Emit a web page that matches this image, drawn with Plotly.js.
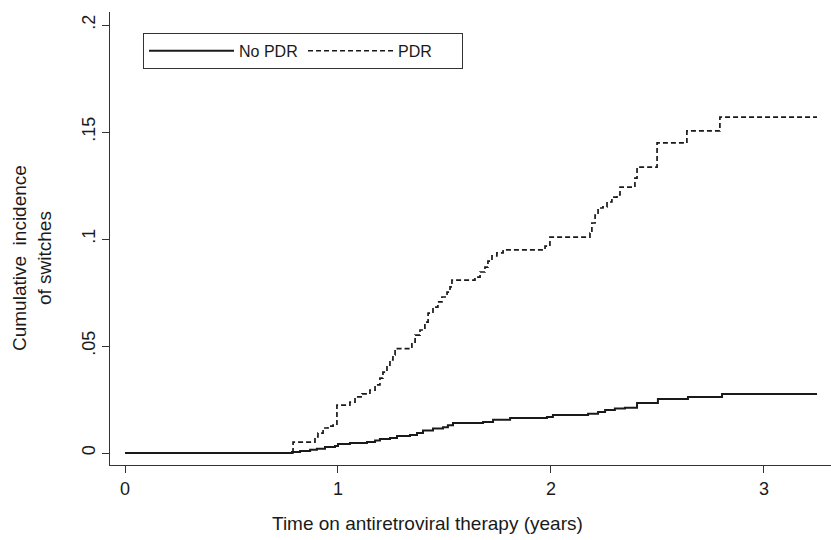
<!DOCTYPE html>
<html>
<head>
<meta charset="utf-8">
<script src="https://cdn.plot.ly/plotly-3.0.1.min.js"></script>
<style>html,body{margin:0;padding:0;background:#fff;}#chart{width:831px;height:540px;}</style>
</head>
<body>
<div id="chart"></div>
<script>
// Time on ART (years) and cumulative incidence of switches (step functions)
const noPdrTime = [0, 0.784, 0.822, 0.869, 0.901, 0.939, 0.986, 1.000, 1.056, 1.136, 1.174, 1.197, 1.244, 1.277, 1.338, 1.371, 1.399, 1.446, 1.493, 1.516, 1.540, 1.681, 1.728, 1.808, 1.981, 2.009, 2.174, 2.221, 2.254, 2.300, 2.347, 2.404, 2.502, 2.643, 2.803, 3.249];
const noPdrInc  = [0, 0.0005, 0.0010, 0.0015, 0.0020, 0.0028, 0.0033, 0.0042, 0.0047, 0.0051, 0.0058, 0.0065, 0.0070, 0.0079, 0.0084, 0.0093, 0.0105, 0.0114, 0.0121, 0.0130, 0.0140, 0.0145, 0.0155, 0.0164, 0.0168, 0.0178, 0.0183, 0.0192, 0.0201, 0.0208, 0.0212, 0.0234, 0.0252, 0.0262, 0.0276, 0.0276];

const pdrTime = [0, 0.789, 0.892, 0.906, 0.930, 0.953, 0.977, 0.995, 1.056, 1.080, 1.113, 1.150, 1.174, 1.197, 1.211, 1.230, 1.244, 1.258, 1.268, 1.347, 1.362, 1.385, 1.408, 1.423, 1.446, 1.469, 1.488, 1.512, 1.526, 1.535, 1.643, 1.667, 1.690, 1.704, 1.723, 1.746, 1.775, 1.972, 1.995, 2.183, 2.192, 2.207, 2.221, 2.244, 2.263, 2.286, 2.310, 2.324, 2.394, 2.404, 2.498, 2.638, 2.793, 3.249];
const pdrInc  = [0, 0.0051, 0.0075, 0.0093, 0.0117, 0.0126, 0.0131, 0.0224, 0.0238, 0.0262, 0.0276, 0.0294, 0.0318, 0.0350, 0.0378, 0.0411, 0.0435, 0.0458, 0.0488, 0.0518, 0.0551, 0.0575, 0.0612, 0.0654, 0.0682, 0.0706, 0.0729, 0.0752, 0.0776, 0.0808, 0.0822, 0.0846, 0.0869, 0.0897, 0.0921, 0.0935, 0.0949, 0.0967, 0.1009, 0.1028, 0.1075, 0.1112, 0.1145, 0.1150, 0.1173, 0.1196, 0.1206, 0.1243, 0.1285, 0.1336, 0.1449, 0.1505, 0.1570, 0.1570];

const xTicks = [0, 1, 2, 3];
const xTickText = ["0", "1", "2", "3"];
const yTicks = [0, 0.05, 0.1, 0.15, 0.2];
const yTickText = ["0", ".05", ".1", ".15", ".2"];
const seriesNames = ["No PDR", "PDR"];

const FONT = "Liberation Sans, Arial, sans-serif";
const INK = "#1a1a1a";

const traces = [
  {x: noPdrTime, y: noPdrInc, name: seriesNames[0], type: "scatter", mode: "lines",
   line: {shape: "hv", color: INK, width: 2}},
  {x: pdrTime, y: pdrInc, name: seriesNames[1], type: "scatter", mode: "lines",
   line: {shape: "hv", color: INK, width: 1.7, dash: "5px,3px"}}
];

const layout = {
  width: 831, height: 540,
  margin: {l: 110, r: 0, t: 12, b: 75},
  paper_bgcolor: "#fff", plot_bgcolor: "#fff",
  font: {family: FONT, color: INK, size: 17},
  showlegend: true,
  legend: {
    orientation: "h", x: 0.0458, y: 0.954, xanchor: "left", yanchor: "top",
    bordercolor: "#333", borderwidth: 1, bgcolor: "#fff",
    font: {family: FONT, size: 16, color: INK},
    itemwidth: 85, entrywidth: 59, entrywidthmode: "pixels",
    tracegroupgap: 0
  },
  xaxis: {
    range: [-0.0704, 3.3146], tickvals: xTicks, ticktext: xTickText,
    ticks: "outside", ticklen: 7, tickcolor: "#333", tickwidth: 1,
    showline: true, linecolor: "#333", linewidth: 1,
    showgrid: false, zeroline: false,
    tickfont: {family: FONT, size: 18, color: INK}
  },
  yaxis: {
    range: [-0.0056, 0.2061], tickvals: yTicks, ticktext: yTickText,
    ticks: "outside", ticklen: 7, tickcolor: "#333", tickwidth: 1,
    showline: true, linecolor: "#333", linewidth: 1,
    showgrid: false, zeroline: false, tickangle: -90,
    tickfont: {family: FONT, size: 18, color: INK}
  },
  annotations: [
    {text: "Time on antiretroviral therapy (years)", xref: "paper", yref: "paper",
     x: (427 - 110) / 721, y: -(523 - 465) / 453, xanchor: "center", yanchor: "middle",
     showarrow: false, font: {family: FONT, size: 19, color: INK}},
    {text: "Cumulative  incidence<br>of switches", xref: "paper", yref: "paper",
     x: -(110 - 32) / 721, y: (465 - 258) / 453, xanchor: "center", yanchor: "middle",
     textangle: -90, showarrow: false, font: {family: FONT, size: 19, color: INK}}
  ]
};

Plotly.newPlot("chart", traces, layout, {displayModeBar: false, staticPlot: true});
</script>
</body>
</html>
